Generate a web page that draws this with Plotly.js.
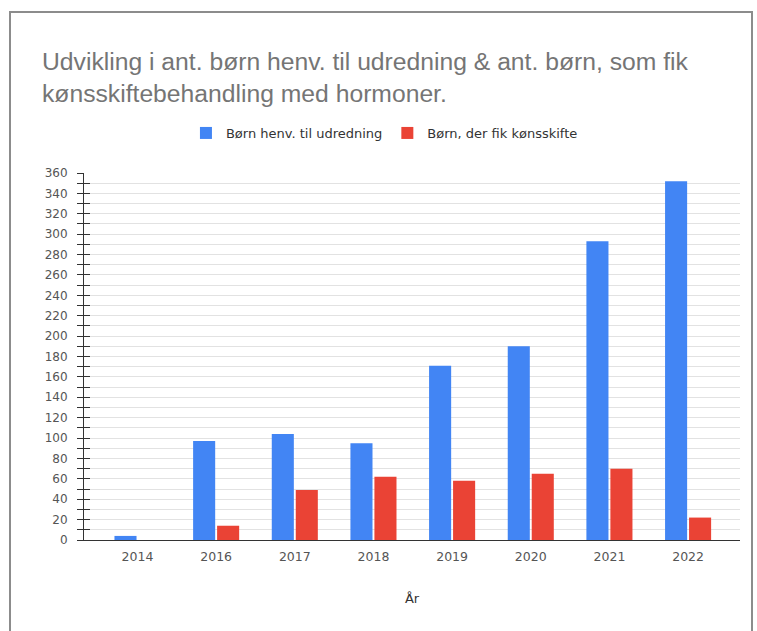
<!DOCTYPE html>
<html>
<head>
<meta charset="utf-8">
<script src="https://cdn.plot.ly/plotly-3.0.1.min.js"></script>
<style>
  html, body { margin: 0; padding: 0; background: #ffffff; }
  #wrap { position: relative; width: 757px; height: 631px; overflow: hidden; }
  #chart { position: absolute; left: 0; top: 0; width: 757px; height: 631px; }
  #frame { position: absolute; left: 9px; top: 11px; width: 744px; height: 630px;
           border: 2px solid #8c8c8c; box-sizing: border-box; pointer-events: none; }
</style>
</head>
<body>
<div id="wrap">
  <div id="chart"></div>
  <div id="frame"></div>
</div>
<script>
const years = ["2014", "2016", "2017", "2018", "2019", "2020", "2021", "2022"];
const henvist = [4, 97, 104, 95, 171, 190, 293, 352];
const koensskifte = [0, 14, 49, 62, 58, 65, 70, 22];
const seriesNames = ["Børn henv. til udredning", "Børn, der fik kønsskifte"];
const titleText = "Udvikling i ant. børn henv. til udredning & ant. børn, som fik<br>kønsskiftebehandling med hormoner.";
const xTitle = "År";

const TITLE_FONT = "Arial, 'Liberation Sans', sans-serif";
const FONT = "'DejaVu Sans', Arial, sans-serif";

const data = [
  { type: "bar", x: years, y: henvist, name: seriesNames[0],
    marker: { color: "#4285f4" }, hoverinfo: "x+y+name" },
  { type: "bar", x: years, y: koensskifte, name: seriesNames[1],
    marker: { color: "#ea4335" }, hoverinfo: "x+y+name" },
  { type: "bar", x: years, y: henvist.map(() => null), yaxis: "y2",
    showlegend: false, hoverinfo: "skip" }
];

const layout = {
  width: 757, height: 631,
  margin: { l: 84, r: 17, t: 173, b: 91 },
  paper_bgcolor: "rgba(0,0,0,0)",
  plot_bgcolor: "#ffffff",
  font: { family: FONT, color: "#444444", size: 12 },
  title: {
    text: titleText,
    font: { family: TITLE_FONT, size: 24.7, color: "#757575" },
    xref: "container", x: 42 / 757, xanchor: "left",
    yref: "container", y: 1 - 70 / 631, yanchor: "top"
  },
  barmode: "group",
  bargap: 0.39,
  bargroupgap: 0.08,
  showlegend: true,
  legend: {
    orientation: "h",
    x: 0.458, xanchor: "center",
    y: 1.109, yanchor: "middle",
    font: { family: FONT, size: 13, color: "#333333" },
    bgcolor: "rgba(0,0,0,0)",
    traceorder: "normal"
  },
  xaxis: {
    type: "category",
    range: [-0.68, 7.66],
    showgrid: false,
    showline: true, linecolor: "#333333", linewidth: 1,
    ticks: "",
    ticklabelstandoff: 5,
    tickfont: { family: FONT, size: 12.5, color: "#555555" },
    title: { text: xTitle, font: { family: FONT, size: 13, color: "#333333" }, standoff: 30 },
    fixedrange: true
  },
  yaxis: {
    range: [0, 360],
    dtick: 20, tick0: 0,
    showgrid: true, gridcolor: "#e2e2e2", gridwidth: 1,
    minor: { dtick: 10, showgrid: true, gridcolor: "#e2e2e2", ticks: "outside", ticklen: 6, tickcolor: "#333333" },
    showline: true, linecolor: "#333333", linewidth: 1,
    ticks: "outside", ticklen: 6, tickcolor: "#333333",
    ticklabelstandoff: 7,
    zeroline: false,
    tickfont: { family: FONT, size: 12, color: "#555555" },
    fixedrange: true
  },
  yaxis2: {
    overlaying: "y", matches: "y", side: "left",
    range: [0, 360], dtick: 20,
    showgrid: false, showline: false, zeroline: false, showticklabels: false,
    ticks: "inside", ticklen: 6, tickcolor: "#333333",
    minor: { dtick: 10, ticks: "inside", ticklen: 6, tickcolor: "#333333", showgrid: false },
    fixedrange: true
  }
};

Plotly.newPlot("chart", data, layout, { displayModeBar: false, staticPlot: true });
</script>
</body>
</html>
